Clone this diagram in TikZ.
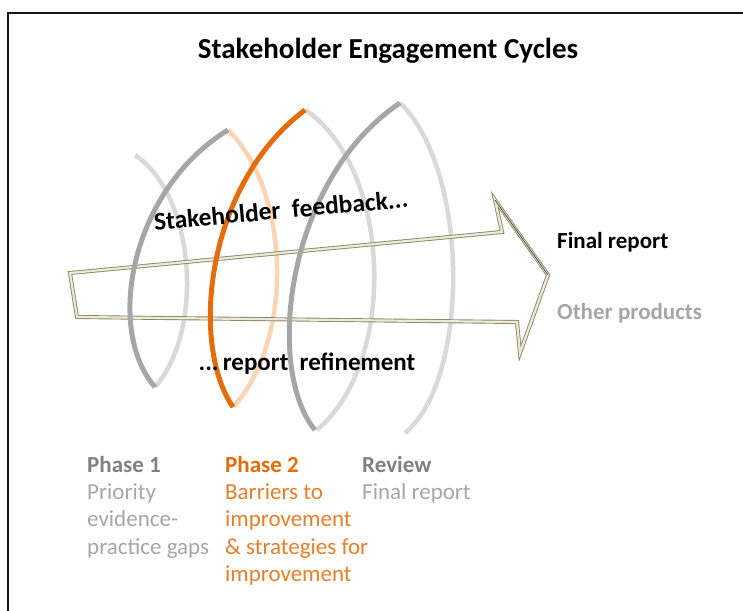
\documentclass[tikz,border=0pt]{standalone}
\usepackage{fontspec}
\setmainfont{Carlito}
\usetikzlibrary{calc}

\definecolor{arcdark}{RGB}{166,166,166}
\definecolor{arclight}{RGB}{217,217,217}
\definecolor{orng}{RGB}{228,108,10}
\definecolor{peach}{RGB}{251,212,180}
\definecolor{arrowedge}{RGB}{140,136,100}
\definecolor{arrowfill}{RGB}{236,234,220}
\definecolor{headgray}{RGB}{128,128,128}
\definecolor{bodygray}{RGB}{166,166,166}
\definecolor{bodyorng}{RGB}{232,126,40}

\begin{document}
\begin{tikzpicture}[x=1pt,y=-1pt, every node/.style={inner sep=0pt},
  backarc/.style={line width=4.5pt},
  frontarc/.style={line width=5pt},
  arrowline/.style={draw=arrowedge, double=arrowfill, double distance=2.2pt, line width=0.9pt, line join=miter},
  lbl/.style={font=\fontsize{23}{27.3}\selectfont, align=left, anchor=north west}]
  \clip (0,0) rectangle (743,610);
  % frame
  \draw[line width=2.6pt, black!90] (8,13) rectangle (780,650);
  \node[font=\fontsize{29}{34}\selectfont\bfseries] (title) at (388,51) {Stakeholder Engagement Cycles};

  % coils, back halves first
  \draw[backarc, arclight] (135,155) .. controls (195,195) and (205,330) .. (155,387);
  \draw[backarc, peach] (228,130) .. controls (290,190) and (295,340) .. (233,407);
  \draw[backarc, arclight] (305,110) .. controls (390,165) and (400,360) .. (317,430);
  \draw[backarc, arclight] (400,103) .. controls (470,170) and (470,380) .. (405,433);

  % big arrow
  \draw[arrowline] (70,273) -- (502,232) -- (495,200) -- (548,275) -- (520,353) -- (517,322) -- (77,317) -- cycle;
  \draw[black!70, line width=0.8pt] (495,200) -- (548,275);

  % coils, front halves
  \draw[frontarc, arcdark] (155,387) .. controls (105,330) and (130,190) .. (228,130);
  \draw[frontarc, orng] (233,407) .. controls (190,345) and (205,185) .. (305,110);
  \draw[frontarc, arcdark] (315,430) .. controls (265,370) and (285,180) .. (400,103);

  % texts on the arrow
  \node[font=\fontsize{25.5}{30}\selectfont\bfseries, rotate=5.2] (feedback) at (281,210) {Stakeholder\ \ feedback...};
  \node[font=\fontsize{25}{30}\selectfont\bfseries] (refine) at (307,364) {...\,report\ \ refinement};
  \node[font=\fontsize{23}{27}\selectfont\bfseries, anchor=west] (final) at (557,242) {Final report};
  \node[font=\fontsize{23}{27}\selectfont\bfseries, anchor=west, text=bodygray] (other) at (557,313) {Other products};

  % phases
  \node[lbl, text=bodygray] (ph1) at (87,456) {\textbf{\color{headgray}Phase 1}\\Priority\\evidence-\\practice gaps};
  \node[lbl, text=bodyorng] (ph2) at (225,456) {\textbf{\color{orng}Phase 2}\\Barriers to\\improvement\\\&~strategies for\\improvement};
  \node[lbl, text=bodygray] (rev) at (362,456) {\textbf{\color{headgray}Review}\\Final report};
\end{tikzpicture}
\end{document}
